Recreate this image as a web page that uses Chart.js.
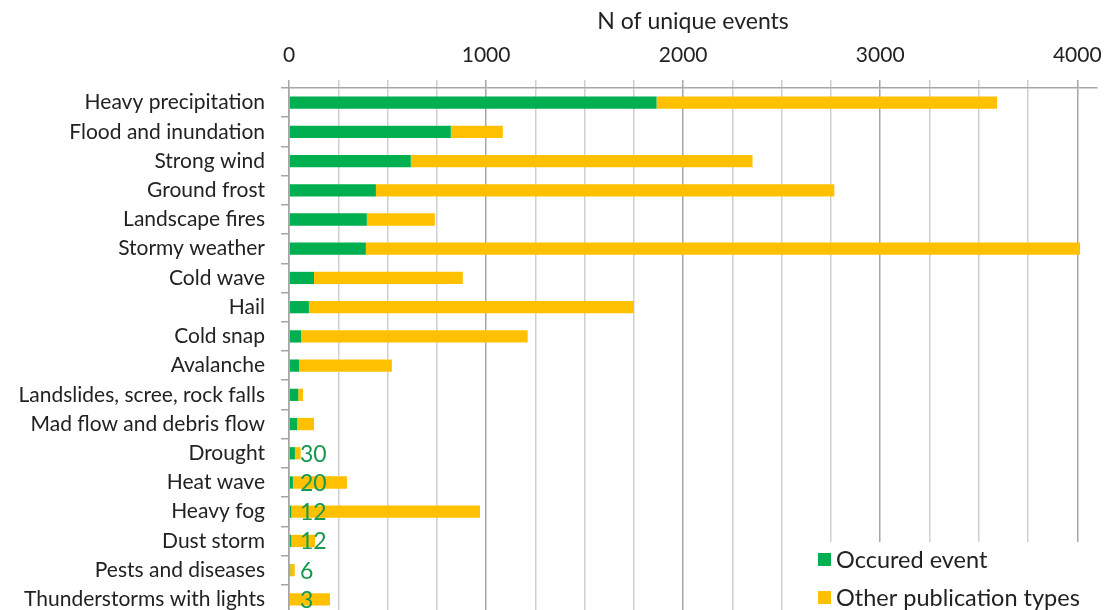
<!DOCTYPE html>
<html><head><meta charset="utf-8">
<script src="https://cdn.jsdelivr.net/npm/chart.js@4/dist/chart.umd.min.js"></script>
<style>html,body{margin:0;padding:0;background:#fff;overflow:hidden}#wrap{width:1106px;height:610px;overflow:hidden}canvas{display:block}</style>
</head><body><div id="wrap"><canvas id="c" width="1106" height="614"></canvas></div>
<script>
const categories = ['Heavy precipitation','Flood and inundation','Strong wind','Ground frost','Landscape fires','Stormy weather','Cold wave','Hail','Cold snap','Avalanche','Landslides, scree, rock falls','Mad flow and debris flow','Drought','Heat wave','Heavy fog','Dust storm','Pests and diseases','Thunderstorms with lights'];
const occurred = [1865, 821, 618, 441, 395, 390, 127, 101, 61, 51, 47, 41, 30, 20, 12, 12, 6, 3];
const otherTypes = [1728, 264, 1734, 2326, 345, 3624, 755, 1648, 1150, 471, 24, 86, 29, 274, 957, 120, 23, 205];
const labelledEvents = ['Drought','Heat wave','Heavy fog','Dust storm','Pests and diseases','Thunderstorms with lights'];
const tickValues = [0, 250, 500, 750, 1000, 1250, 1500, 1750, 2000, 2250, 2500, 2750, 3000, 3250, 3500, 3750, 4000];
const tickLabels = ['0', '', '', '', '1000', '', '', '', '2000', '', '', '', '3000', '', '', '', '4000'];
const axisTitle = 'N of unique events';
const seriesNames = ['Occured event','Other publication types'];
const seriesColors = ['#00B050','#FFC000'];

const FONT = 'Lato, Carlito, Calibri, sans-serif';

function noPad(s) { s.paddingTop = 0; s.paddingBottom = 0; s.paddingLeft = 0; s.paddingRight = 0; }

const overlay = {
  id: 'overlay',
  afterDatasetsDraw(chart) {
    const ctx = chart.ctx, xs = chart.scales.x, ys = chart.scales.y;
    ctx.save();
    ctx.font = '23px ' + FONT;
    ctx.fillStyle = '#16994F';
    ctx.textAlign = 'left';
    ctx.textBaseline = 'middle';
    categories.forEach((c, i) => {
      if (labelledEvents.includes(c)) {
        ctx.fillText(String(occurred[i]), xs.getPixelForValue(0) + 11, ys.getPixelForValue(i) + 1);
      }
    });
    ctx.fillStyle = '#fff';
    ctx.fillRect(800, 542, 306, 80);
    ctx.font = '23.5px ' + FONT;
    ctx.textAlign = 'left';
    chart.data.datasets.forEach((ds, k) => {
      const y = 559 + k * 38;
      ctx.fillStyle = ds.backgroundColor;
      ctx.fillRect(818, y - 6, 13, 13);
      ctx.fillStyle = '#222';
      ctx.fillText(ds.label, 836, y + 1);
    });
    ctx.restore();
  }
};

new Chart(document.getElementById('c'), {
  type: 'bar',
  data: {
    labels: categories,
    datasets: [
      {label: seriesNames[0], data: occurred, backgroundColor: seriesColors[0], barPercentage: 0.42, categoryPercentage: 1},
      {label: seriesNames[1], data: otherTypes, backgroundColor: seriesColors[1], barPercentage: 0.42, categoryPercentage: 1}
    ]
  },
  options: {
    indexAxis: 'y',
    responsive: false,
    animation: false,
    layout: {padding: {left: 0, right: 9, top: 0, bottom: 0}},
    plugins: {legend: {display: false}, tooltip: {enabled: false}},
    scales: {
      x: {
        position: 'top',
        stacked: true,
        min: 0, max: 4100,
        afterBuildTicks: s => { s.ticks = tickValues.map(v => ({value: v})); },
        afterFit: s => { s.height = 88; noPad(s); },
        title: {
          display: true,
          text: axisTitle,
          color: '#222',
          font: {family: FONT, size: 23},
          padding: {top: 8, bottom: 0}
        },
        ticks: {
          autoSkip: false,
          maxRotation: 0,
          padding: 12,
          color: '#222',
          font: {family: FONT, size: 21},
          callback: (v, i) => tickLabels[i]
        },
        grid: {
          color: ctx => (ctx.tick && ctx.tick.value % 1000 === 0 ? '#A6A6A6' : '#CFCFCF'),
          lineWidth: 1.5,
          tickLength: 8,
          drawTicks: true
        },
        border: {color: '#A6A6A6', width: 1.5}
      },
      y: {
        stacked: true,
        afterFit: s => { s.width = 289; noPad(s); },
        ticks: {
          padding: 16,
          color: '#222',
          font: {family: FONT, size: 21},
          autoSkip: false
        },
        grid: {
          offset: true,
          drawOnChartArea: false,
          tickLength: 8,
          color: '#A6A6A6',
          lineWidth: 1.5
        },
        border: {color: '#A6A6A6', width: 1.5}
      }
    }
  },
  plugins: [overlay]
});
</script>
</body></html>
